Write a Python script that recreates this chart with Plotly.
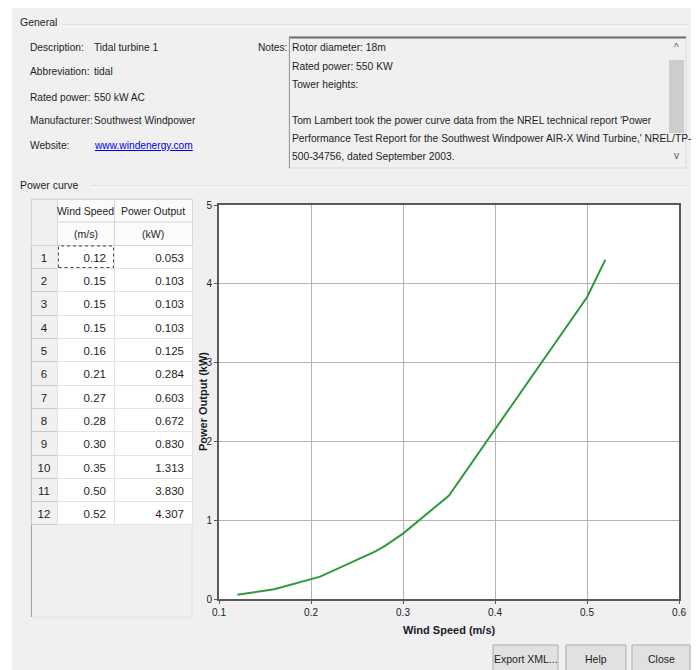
import plotly.graph_objects as go

# ---------------- data ----------------
row_numbers = [1, 2, 3, 4, 5, 6, 7, 8, 9, 10, 11, 12]
wind_speed = [0.12, 0.15, 0.15, 0.15, 0.16, 0.21, 0.27, 0.28, 0.30, 0.35, 0.50, 0.52]
power_output = [0.053, 0.103, 0.103, 0.103, 0.125, 0.284, 0.603, 0.672, 0.830, 1.313, 3.830, 4.307]

x_ticks = [0.1, 0.2, 0.3, 0.4, 0.5, 0.6]
y_ticks = [0, 1, 2, 3, 4, 5]

table_headers = ["", "Wind\u00a0Speed", "Power\u00a0Output"]
table_units = ["(m/s)", "(kW)"]
general_labels = ["Description:", "Abbreviation:", "Rated power:", "Manufacturer:", "Website:"]
general_values = ["Tidal turbine 1", "tidal", "550 kW AC", "Southwest Windpower", "www.windenergy.com"]
notes_lines = [
    "Rotor diameter: 18m",
    "Rated power: 550 KW",
    "Tower heights:",
    "",
    "Tom Lambert took the power curve data from the NREL technical report 'Power",
    "Performance Test Report for the Southwest Windpower AIR-X Wind Turbine,' NREL/TP-",
    "500-34756, dated September 2003.",
]
button_labels = ["Export XML...", "Help", "Close"]

# ---------------- geometry helpers (page pixel coords; page body has 8px margin) ----------------
OX, OY = 8, 8
W, H = 683, 662
FONT = "Liberation Sans, Arial, sans-serif"
TXT = "#1e1e1e"


def px(x):
    return (x - OX) / W


def py(y):
    return 1 - (y - OY) / H


shapes = []
annotations = []


def rect(x0, y0, x1, y1, fill=None, line=None, lw=1, layer="below", dash=None):
    d = dict(type="rect", xref="paper", yref="paper",
             x0=px(x0), x1=px(x1), y0=py(y1), y1=py(y0),
             fillcolor=fill if fill else "rgba(0,0,0,0)",
             line=dict(color=line if line else "rgba(0,0,0,0)", width=lw if line else 0),
             layer=layer)
    if dash:
        d["line"]["dash"] = dash
    shapes.append(d)


def hline(x0, x1, y, color, lw=1, layer="below"):
    shapes.append(dict(type="line", xref="paper", yref="paper",
                       x0=px(x0), x1=px(x1), y0=py(y), y1=py(y),
                       line=dict(color=color, width=lw), layer=layer))


def vline(x, y0, y1, color, lw=1, layer="below"):
    shapes.append(dict(type="line", xref="paper", yref="paper",
                       x0=px(x), x1=px(x), y0=py(y0), y1=py(y1),
                       line=dict(color=color, width=lw), layer=layer))


def text(x, y, s, size=11, color=TXT, xanchor="left", yanchor="middle", family=FONT, angle=0):
    annotations.append(dict(xref="paper", yref="paper", x=px(x), y=py(y), text=s,
                            showarrow=False, xanchor=xanchor, yanchor=yanchor,
                            textangle=angle, borderpad=0,
                            font=dict(size=size, color=color, family=family)))


# white strip on the left of the dialog
rect(OX, OY, 12, 670, fill="#ffffff")

# General group
text(19, 22, "General", size=10.5)
hline(62, 688, 25, "#d5d5d5")
hline(62, 688, 26, "#ffffff")
label_y = [47, 72, 98, 120, 145]
for lab, val, yy in zip(general_labels, general_values, label_y):
    text(29, yy, lab, size=10.2)
    if lab == "Website:":
        text(93, yy, '<span style="text-decoration:underline">' + val + "</span>",
             size=10.2, color="#0000ee")
    else:
        text(93, yy, val, size=10.2)

# Notes
text(288, 47, "Notes:", size=10.2, xanchor="right")
rect(289, 37, 686, 168, fill="#f0f0f0", line="#d8d8d8")
hline(289, 686, 37.5, "#6e6e6e", lw=2)
vline(289.5, 37, 168, "#9a9a9a")
rect(668, 39, 685, 167, fill="#f0f0f0")
rect(669, 60, 684, 133, fill="#cdcdcd")
text(676.5, 47, "^", size=10, color="#555555", xanchor="center")
text(676.5, 155, "v", size=10, color="#555555", xanchor="center")
note_y = [47, 66, 84, 102, 120, 138, 157]
for s, yy in zip(notes_lines, note_y):
    if s:
        text(291, yy, s, size=10.3)

# Power curve group
text(19, 185, "Power curve", size=10.5)
hline(92, 688, 186, "#d5d5d5")
hline(92, 688, 187, "#ffffff")

# table area background
rect(31, 199, 192, 617, fill="#f0f0f0", line="#e2e2e2")
vline(31.5, 199, 617, "#a8a8a8")
# inner header separator + unit labels
hline(57, 192, 222, "#d6d6d6", layer="above")
text(85.5, 234, table_units[0], size=10.5, xanchor="center")
text(153, 234, table_units[1], size=10.5, xanchor="center")
# focus rectangle on first cell
rect(58.5, 246, 113.5, 267.5, line="#444444", lw=1, layer="above", dash="dot")

# buttons
for lab, (x0, x1) in zip(button_labels, [(493, 558), (566, 626), (632, 690)]):
    rect(x0, 645, x1, 672, fill="#e1e1e1", line="#adadad")
    text((x0 + x1) / 2, 659, lab, size=10.5, xanchor="center")

# axis titles
text(449, 630, "<b>Wind Speed (m/s)</b>", size=11, color="#1a1a2a", xanchor="center")
text(203, 402, "<b>Power Output (kW)</b>", size=11, color="#1a1a2a", xanchor="center", angle=-90)

# ---------------- traces ----------------
fig = go.Figure()

fig.add_trace(go.Scatter(
    x=wind_speed, y=power_output, mode="lines",
    line=dict(color="#2e9a3c", width=2),
    hoverinfo="x+y", showlegend=False,
))

row_h = (525 - 245) / 12
fig.add_trace(go.Table(
    domain=dict(x=[px(31), px(192)], y=[py(525), py(199)]),
    columnwidth=[26, 57, 78],
    header=dict(
        values=table_headers,
        height=46,
        fill_color=["#f0f0f0", "#fbfbfb", "#fbfbfb"],
        line_color="#d6d6d6",
        align="center",
        font=dict(family=FONT, size=10.5, color=TXT),
    ),
    cells=dict(
        values=[row_numbers, wind_speed, power_output],
        format=["", ".2f", ".3f"],
        height=row_h,
        fill_color=["#f0f0f0", "#ffffff", "#ffffff"],
        line_color=["#c8c8c8", "#e4e4e4", "#e4e4e4"],
        align=["center", "right", "right"],
        font=dict(family=FONT, size=11.5, color=TXT),
    ),
))

fig.update_layout(
    width=W, height=H, autosize=False,
    margin=dict(l=0, r=0, t=0, b=0, pad=0),
    paper_bgcolor="#f0f0f0",
    plot_bgcolor="#ffffff",
    showlegend=False,
    shapes=shapes,
    annotations=annotations,
    xaxis=dict(
        domain=[px(219), px(679)], range=[0.1, 0.6],
        tickvals=x_ticks, ticktext=[str(v) for v in x_ticks],
        showgrid=True, gridcolor="#b4b4b4", gridwidth=1,
        showline=True, linecolor="#5a5a5a", linewidth=2, mirror=True,
        ticks="outside", ticklen=3, tickcolor="#5a5a5a",
        tickfont=dict(family=FONT, size=10, color="#1a1a2a"),
        zeroline=False, automargin=False, fixedrange=True,
    ),
    yaxis=dict(
        domain=[py(599), py(205)], range=[0, 5],
        tickvals=y_ticks, ticktext=[str(v) for v in y_ticks],
        showgrid=True, gridcolor="#b4b4b4", gridwidth=1,
        showline=True, linecolor="#5a5a5a", linewidth=2, mirror=True,
        ticks="outside", ticklen=3, tickcolor="#5a5a5a",
        tickfont=dict(family=FONT, size=10, color="#1a1a2a"),
        zeroline=False, automargin=False, fixedrange=True,
    ),
)

fig.write_html("out.html")
